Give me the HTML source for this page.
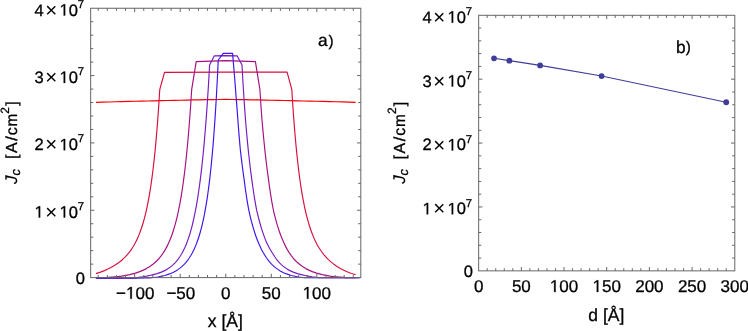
<!DOCTYPE html>
<html><head><meta charset="utf-8"><title>Jc plots</title>
<style>html,body{margin:0;padding:0;background:#fff;}body{width:748px;height:331px;overflow:hidden;font-family:"Liberation Sans",sans-serif;}svg{display:block;will-change:transform}svg text{font-family:"Liberation Sans",sans-serif;stroke:#000;stroke-width:0.3px;}</style>
</head><body>
<svg width="748" height="331" viewBox="0 0 748 331" style="font-family:&quot;Liberation Sans&quot;,sans-serif" fill="#000" text-rendering="geometricPrecision"><path d="M95.90 102.30L102.39 102.13L108.89 101.96L115.38 101.79L121.87 101.62L128.36 101.45L134.86 101.29L141.35 101.13L147.84 100.97L154.33 100.82L160.83 100.66L167.32 100.51L173.81 100.37L180.30 100.22L186.80 100.08L193.29 99.95L199.78 99.82L206.27 99.70L212.77 99.58L219.26 99.48L225.75 99.40L232.24 99.48L238.74 99.58L245.23 99.70L251.72 99.82L258.21 99.95L264.71 100.08L271.20 100.22L277.69 100.36L284.18 100.51L290.68 100.66L297.17 100.81L303.66 100.97L310.15 101.13L316.65 101.29L323.14 101.45L329.63 101.62L336.12 101.78L342.62 101.95L349.11 102.12L355.60 102.30" fill="none" stroke="#ff0000" stroke-width="1.17" stroke-linejoin="round" stroke-linecap="butt"/>
<path d="M95.90 273.64L100.52 272.12L104.44 270.60L107.84 269.08L110.86 267.56L113.55 266.04L115.98 264.52L118.18 263.00L120.18 261.48L122.00 259.96L123.68 258.44L125.22 256.92L126.65 255.40L127.97 253.88L129.19 252.36L130.34 250.84L131.41 249.32L132.41 247.80L133.35 246.28L134.24 244.76L135.08 243.24L135.87 241.72L136.62 240.20L137.34 238.68L138.02 237.16L138.66 235.64L139.28 234.12L139.87 232.60L140.44 231.08L140.98 229.56L141.50 228.04L142.00 226.52L142.48 225.00L142.94 223.48L143.39 221.96L143.82 220.44L144.24 218.92L144.64 217.40L145.03 215.88L145.40 214.36L145.77 212.84L146.12 211.32L146.47 209.80L146.80 208.28L147.12 206.76L147.44 205.24L147.75 203.72L148.04 202.20L148.33 200.67L148.62 199.15L148.89 197.63L149.16 196.11L149.43 194.59L149.68 193.07L149.93 191.55L150.18 190.03L150.42 188.51L150.65 186.99L150.88 185.47L151.11 183.95L151.33 182.43L151.54 180.91L151.75 179.39L151.96 177.87L152.16 176.35L152.36 174.83L152.56 173.31L152.75 171.79L152.94 170.27L153.12 168.75L153.30 167.23L153.48 165.71L153.65 164.19L153.83 162.67L153.99 161.15L154.16 159.63L154.32 158.11L154.49 156.59L154.64 155.07L154.80 153.55L154.95 152.03L155.10 150.51L155.25 148.99L155.40 147.47L155.54 145.95L155.68 144.43L155.82 142.91L155.96 141.39L156.10 139.87L156.23 138.35L156.36 136.83L156.49 135.31L156.62 133.79L156.75 132.27L156.88 130.75L157.00 129.23L157.12 127.71L157.24 126.18L157.36 124.66L157.48 123.14L157.59 121.62L157.71 120.10L157.82 118.58L157.93 117.06L158.04 115.54L158.15 114.02L158.26 112.50L158.37 110.98L158.47 109.46L158.58 107.94L158.68 106.42L158.78 104.90L158.88 103.38L158.98 101.86L159.08 100.34L159.18 98.82L159.27 97.30L159.37 95.78L159.46 94.26L159.56 92.74L159.65 91.22L159.74 89.70L164.50 72.40L225.80 72.20L287.10 72.20L291.83 89.70L291.92 91.22L292.01 92.73L292.11 94.25L292.20 95.77L292.30 97.29L292.39 98.80L292.49 100.32L292.59 101.84L292.69 103.35L292.79 104.87L292.89 106.39L293.00 107.90L293.10 109.42L293.21 110.94L293.31 112.46L293.42 113.97L293.53 115.49L293.64 117.01L293.75 118.52L293.87 120.04L293.98 121.56L294.10 123.07L294.22 124.59L294.34 126.11L294.46 127.63L294.58 129.14L294.70 130.66L294.83 132.18L294.96 133.69L295.09 135.21L295.22 136.73L295.35 138.24L295.49 139.76L295.62 141.28L295.76 142.80L295.90 144.31L296.04 145.83L296.19 147.35L296.34 148.86L296.49 150.38L296.64 151.90L296.79 153.42L296.95 154.93L297.11 156.45L297.27 157.97L297.43 159.48L297.60 161.00L297.77 162.52L297.94 164.03L298.12 165.55L298.29 167.07L298.48 168.59L298.66 170.10L298.85 171.62L299.04 173.14L299.24 174.65L299.44 176.17L299.64 177.69L299.85 179.20L300.06 180.72L300.27 182.24L300.49 183.76L300.72 185.27L300.95 186.79L301.18 188.31L301.42 189.82L301.67 191.34L301.92 192.86L302.18 194.37L302.44 195.89L302.71 197.41L302.99 198.93L303.27 200.44L303.56 201.96L303.86 203.48L304.16 204.99L304.48 206.51L304.80 208.03L305.13 209.55L305.48 211.06L305.83 212.58L306.19 214.10L306.57 215.61L306.95 217.13L307.35 218.65L307.76 220.16L308.19 221.68L308.63 223.20L309.09 224.72L309.56 226.23L310.06 227.75L310.57 229.27L311.10 230.78L311.66 232.30L312.23 233.82L312.84 235.33L313.47 236.85L314.13 238.37L314.82 239.89L315.55 241.40L316.31 242.92L317.12 244.44L317.97 245.95L318.86 247.47L319.82 248.99L320.82 250.50L321.90 252.02L323.04 253.54L324.26 255.06L325.57 256.57L326.98 258.09L328.49 259.61L330.13 261.12L331.90 262.64L333.83 264.16L335.95 265.68L338.27 267.19L340.86 268.71L343.76 270.23L347.07 271.74L350.94 273.26L355.70 274.78" fill="none" stroke="#d80f3e" stroke-width="1.17" stroke-linejoin="round" stroke-linecap="butt"/>
<path d="M95.90 278.10L98.43 277.99L100.97 277.86L103.50 277.72L106.03 277.56L108.57 277.38L111.10 277.20L112.87 277.07L114.63 276.92L116.40 276.77L118.17 276.60L119.93 276.41L121.70 276.19L129.71 274.68L135.38 273.16L139.78 271.65L143.36 270.13L146.37 268.61L148.95 267.10L151.21 265.58L153.21 264.06L155.00 262.55L156.62 261.03L158.09 259.52L159.43 258.00L160.67 256.48L161.82 254.97L162.88 253.45L163.88 251.93L164.81 250.42L165.69 248.90L166.51 247.39L167.29 245.87L168.03 244.35L168.73 242.84L169.40 241.32L170.04 239.80L170.64 238.29L171.22 236.77L171.78 235.26L172.31 233.74L172.83 232.22L173.32 230.71L173.79 229.19L174.25 227.68L174.69 226.16L175.12 224.64L175.53 223.13L175.93 221.61L176.32 220.09L176.69 218.58L177.06 217.06L177.41 215.55L177.75 214.03L178.09 212.51L178.41 211.00L178.73 209.48L179.04 207.96L179.34 206.45L179.63 204.93L179.91 203.42L180.19 201.90L180.46 200.38L180.73 198.87L180.99 197.35L181.24 195.83L181.49 194.32L181.73 192.80L181.97 191.29L182.21 189.77L182.43 188.25L182.66 186.74L182.88 185.22L183.09 183.71L183.30 182.19L183.51 180.67L183.71 179.16L183.91 177.64L184.11 176.12L184.30 174.61L184.49 173.09L184.68 171.58L184.86 170.06L185.04 168.54L185.22 167.03L185.39 165.51L185.56 163.99L185.73 162.48L185.89 160.96L186.06 159.45L186.22 157.93L186.38 156.41L186.53 154.90L186.69 153.38L186.84 151.86L186.99 150.35L187.14 148.83L187.28 147.32L187.42 145.80L187.57 144.28L187.71 142.77L187.84 141.25L187.98 139.73L188.11 138.22L188.25 136.70L188.38 135.19L188.50 133.67L188.63 132.15L188.76 130.64L188.88 129.12L189.01 127.61L189.13 126.09L189.25 124.57L189.36 123.06L189.48 121.54L189.60 120.02L189.71 118.51L189.83 116.99L189.94 115.48L190.05 113.96L190.16 112.44L190.27 110.93L190.37 109.41L190.48 107.89L190.58 106.38L190.69 104.86L190.79 103.35L190.89 101.83L190.99 100.31L191.09 98.80L191.19 97.28L191.29 95.76L191.38 94.25L191.48 92.73L191.58 91.22L191.67 89.70L196.20 61.70L225.80 60.60L255.40 61.60L259.93 89.70L260.02 91.22L260.12 92.73L260.22 94.25L260.31 95.76L260.41 97.28L260.51 98.80L260.61 100.31L260.71 101.83L260.81 103.35L260.91 104.86L261.02 106.38L261.12 107.89L261.23 109.41L261.33 110.93L261.44 112.44L261.55 113.96L261.66 115.48L261.77 116.99L261.89 118.51L262.00 120.02L262.13 121.54L262.27 123.06L262.40 124.57L262.53 126.09L262.67 127.61L262.81 129.12L262.95 130.64L263.09 132.15L263.23 133.67L263.38 135.19L263.52 136.70L263.67 138.22L263.82 139.73L263.97 141.25L264.12 142.77L264.28 144.28L264.43 145.80L264.59 147.32L264.75 148.83L264.91 150.35L265.08 151.86L265.25 153.38L265.42 154.90L265.59 156.41L265.76 157.93L265.94 159.45L266.11 160.96L266.30 162.48L266.48 163.99L266.67 165.51L266.85 167.03L267.05 168.54L267.24 170.06L267.44 171.58L267.64 173.09L267.85 174.61L268.05 176.12L268.26 177.64L268.48 179.16L268.69 180.67L268.88 182.19L269.08 183.71L269.29 185.22L269.50 186.74L269.71 188.25L269.93 189.77L270.15 191.29L270.38 192.80L270.61 194.32L270.85 195.83L271.10 197.35L271.34 198.87L271.60 200.38L271.86 201.90L272.13 203.42L272.41 204.93L272.69 206.45L272.98 207.96L273.28 209.48L273.61 211.00L273.96 212.51L274.33 214.03L274.70 215.55L275.08 217.06L275.48 218.58L275.88 220.09L276.30 221.61L276.73 223.13L277.17 224.64L277.63 226.16L278.10 227.68L278.59 229.19L279.09 230.71L279.62 232.22L280.16 233.74L280.72 235.26L281.31 236.77L281.92 238.29L282.56 239.80L283.20 241.32L283.87 242.84L284.57 244.35L285.31 245.87L286.09 247.39L286.91 248.90L287.79 250.42L288.72 251.93L289.72 253.45L290.78 254.97L291.90 256.48L293.11 258.00L294.42 259.52L295.86 261.03L297.45 262.55L299.21 264.06L301.16 265.58L303.34 267.10L305.85 268.61L308.79 270.13L312.29 271.65L316.61 273.16L322.20 274.68L330.08 276.19L331.83 276.41L333.57 276.60L335.32 276.77L337.07 276.92L338.83 277.07L340.58 277.20L343.10 277.38L345.61 277.56L348.13 277.72L350.65 277.75L353.17 277.75L355.70 277.75" fill="none" stroke="#a80f80" stroke-width="1.17" stroke-linejoin="round" stroke-linecap="butt"/>
<path d="M95.90 278.10L101.58 278.10L107.27 278.09L112.95 278.08L118.63 278.06L124.32 278.03L130.00 278.00L131.78 277.95L133.57 277.85L135.35 277.69L137.13 277.51L138.92 277.31L140.70 277.10L142.47 276.87L144.23 276.59L146.00 276.27L147.77 275.92L149.53 275.55L151.30 275.17L157.14 273.66L161.36 272.15L164.64 270.64L167.33 269.12L169.59 267.61L171.55 266.10L173.26 264.59L174.79 263.08L176.17 261.56L177.42 260.05L178.57 258.54L179.62 257.03L180.60 255.51L181.51 254.00L182.37 252.49L183.17 250.98L183.92 249.47L184.64 247.95L185.31 246.44L185.96 244.93L186.57 243.42L187.15 241.91L187.71 240.39L188.25 238.88L188.76 237.37L189.25 235.86L189.73 234.35L190.18 232.83L190.62 231.32L191.05 229.81L191.46 228.30L191.86 226.79L192.24 225.27L192.62 223.76L192.98 222.25L193.33 220.74L193.67 219.23L194.01 217.71L194.33 216.20L194.65 214.69L194.95 213.18L195.25 211.67L195.54 210.15L195.83 208.64L196.11 207.13L196.38 205.62L196.65 204.11L196.91 202.59L197.16 201.08L197.41 199.57L197.65 198.06L197.89 196.55L198.13 195.03L198.36 193.52L198.58 192.01L198.80 190.50L199.02 188.99L199.23 187.47L199.44 185.96L199.65 184.45L199.85 182.94L200.05 181.43L200.24 179.91L200.43 178.40L200.62 176.89L200.81 175.38L200.99 173.87L201.17 172.35L201.34 170.84L201.52 169.33L201.69 167.82L201.86 166.31L202.03 164.79L202.19 163.28L202.35 161.77L202.51 160.26L202.67 158.75L202.82 157.23L202.97 155.72L203.13 154.21L203.27 152.70L203.42 151.19L203.57 149.67L203.71 148.16L203.85 146.65L203.99 145.14L204.13 143.63L204.26 142.11L204.40 140.60L204.53 139.09L204.66 137.58L204.79 136.07L204.92 134.55L205.05 133.04L205.17 131.53L205.30 130.02L205.42 128.50L205.54 126.99L205.66 125.48L205.78 123.97L205.89 122.46L206.01 120.94L206.13 119.43L206.24 117.92L206.35 116.41L206.46 114.90L206.57 113.38L206.68 111.87L206.79 110.36L206.90 108.85L207.00 107.34L207.11 105.82L207.21 104.31L207.31 102.80L207.42 101.29L207.52 99.78L207.62 98.26L207.72 96.75L207.81 95.24L207.91 93.73L208.01 92.22L208.10 90.70L208.20 89.19L208.29 87.68L208.39 86.17L208.48 84.66L208.57 83.14L208.66 81.63L208.75 80.12L208.84 78.61L208.93 77.10L209.01 75.58L209.10 74.07L209.19 72.56L209.27 71.05L209.36 69.54L209.44 68.02L209.53 66.51L209.61 65.00L214.40 55.80L225.80 55.70L237.20 55.90L241.99 65.00L242.07 66.51L242.16 68.02L242.24 69.54L242.33 71.05L242.41 72.56L242.50 74.07L242.59 75.58L242.67 77.10L242.76 78.61L242.85 80.12L242.94 81.63L243.03 83.14L243.12 84.66L243.21 86.17L243.31 87.68L243.40 89.19L243.50 90.70L243.59 92.22L243.69 93.73L243.79 95.24L243.88 96.75L243.98 98.26L244.08 99.78L244.18 101.29L244.29 102.80L244.39 104.31L244.49 105.82L244.60 107.34L244.70 108.85L244.81 110.36L244.92 111.87L245.03 113.38L245.14 114.90L245.25 116.41L245.36 117.92L245.47 119.43L245.60 120.94L245.72 122.46L245.85 123.97L245.98 125.48L246.11 126.99L246.24 128.50L246.37 130.02L246.51 131.53L246.64 133.04L246.78 134.55L246.92 136.07L247.06 137.58L247.20 139.09L247.34 140.60L247.48 142.11L247.63 143.63L247.78 145.14L247.93 146.65L248.08 148.16L248.23 149.67L248.39 151.19L248.55 152.70L248.72 154.21L248.88 155.72L249.05 157.23L249.22 158.75L249.39 160.26L249.57 161.77L249.74 163.28L249.92 164.79L250.10 166.31L250.29 167.82L250.47 169.33L250.66 170.84L250.86 172.35L251.05 173.87L251.25 175.38L251.45 176.89L251.65 178.40L251.86 179.91L252.06 181.43L252.26 182.94L252.47 184.45L252.68 185.96L252.89 187.47L253.11 188.99L253.33 190.50L253.56 192.01L253.79 193.52L254.02 195.03L254.26 196.55L254.51 198.06L254.76 199.57L255.01 201.08L255.27 202.59L255.53 204.11L255.80 205.62L256.08 207.13L256.37 208.64L256.66 210.15L257.01 211.67L257.37 213.18L257.74 214.69L258.12 216.20L258.50 217.71L258.89 219.23L259.30 220.74L259.71 222.25L260.13 223.76L260.57 225.27L261.01 226.79L261.47 228.30L261.94 229.81L262.43 231.32L262.93 232.83L263.45 234.35L263.98 235.86L264.54 237.37L265.11 238.88L265.72 240.39L266.40 241.91L267.10 243.42L267.84 244.93L268.60 246.44L269.40 247.95L270.23 249.47L271.11 250.98L272.03 252.49L273.01 254.00L274.00 255.51L274.98 257.03L276.03 258.54L277.18 260.05L278.43 261.56L279.81 263.08L281.34 264.59L283.05 266.10L285.01 267.61L287.27 269.12L289.96 270.64L293.24 272.15L297.46 273.66L303.30 275.17L305.07 275.55L306.83 275.92L308.60 276.27L310.37 276.59L312.13 276.87L313.90 277.10L315.68 277.31L317.47 277.51L319.25 277.69L321.03 277.75L322.82 277.75L324.60 277.75L330.28 277.75L335.97 277.75L341.65 277.75L347.33 277.75L353.02 277.75L358.70 277.75" fill="none" stroke="#761cc0" stroke-width="1.17" stroke-linejoin="round" stroke-linecap="butt"/>
<path d="M95.90 278.10L104.08 278.10L112.27 278.09L120.45 278.08L128.63 278.06L136.82 278.04L145.00 278.00L147.12 277.95L149.23 277.84L151.35 277.67L153.47 277.46L155.58 277.22L157.70 276.97L164.87 275.45L169.52 273.93L173.02 272.42L175.84 270.90L178.21 269.38L180.25 267.86L182.05 266.35L183.65 264.83L185.09 263.31L186.39 261.80L187.59 260.28L188.70 258.76L189.72 257.24L190.67 255.73L191.56 254.21L192.39 252.69L193.17 251.17L193.91 249.66L194.61 248.14L195.27 246.62L195.90 245.11L196.50 243.59L197.07 242.07L197.62 240.55L198.14 239.04L198.64 237.52L199.12 236.00L199.58 234.48L200.03 232.97L200.46 231.45L200.87 229.93L201.27 228.42L201.66 226.90L202.03 225.38L202.39 223.86L202.74 222.35L203.08 220.83L203.41 219.31L203.73 217.79L204.04 216.28L204.34 214.76L204.63 213.24L204.92 211.73L205.20 210.21L205.47 208.69L205.74 207.17L205.99 205.66L206.25 204.14L206.49 202.62L206.73 201.10L206.97 199.59L207.20 198.07L207.43 196.55L207.65 195.04L207.86 193.52L208.07 192.00L208.28 190.48L208.48 188.97L208.68 187.45L208.88 185.93L209.07 184.41L209.26 182.90L209.44 181.38L209.62 179.86L209.80 178.35L209.97 176.83L210.14 175.31L210.31 173.79L210.48 172.28L210.64 170.76L210.80 169.24L210.96 167.73L211.12 166.21L211.27 164.69L211.42 163.17L211.57 161.66L211.71 160.14L211.86 158.62L212.00 157.10L212.14 155.59L212.27 154.07L212.41 152.55L212.54 151.04L212.67 149.52L212.80 148.00L212.93 146.48L213.06 144.97L213.18 143.45L213.31 141.93L213.43 140.41L213.55 138.90L213.67 137.38L213.78 135.86L213.90 134.35L214.01 132.83L214.12 131.31L214.24 129.79L214.35 128.28L214.45 126.76L214.56 125.24L214.67 123.72L214.77 122.21L214.88 120.69L214.98 119.17L215.08 117.66L215.18 116.14L215.28 114.62L215.38 113.10L215.47 111.59L215.57 110.07L215.66 108.55L215.76 107.03L215.85 105.52L215.94 104.00L216.03 102.48L216.12 100.97L216.21 99.45L216.30 97.93L216.39 96.41L216.48 94.90L216.56 93.38L216.65 91.86L216.73 90.35L216.81 88.83L216.90 87.31L216.98 85.79L217.06 84.28L217.14 82.76L217.22 81.24L217.30 79.72L217.37 78.21L217.45 76.69L217.53 75.17L217.60 73.66L217.68 72.14L217.75 70.62L217.83 69.10L217.90 67.59L217.97 66.07L218.05 64.55L218.12 63.03L218.19 61.52L218.26 60.00L223.30 53.40L232.60 53.40L234.50 76.00L237.62 116.14L237.72 117.66L237.82 119.17L237.93 120.69L238.04 122.21L238.16 123.72L238.27 125.24L238.39 126.76L238.51 128.28L238.63 129.79L238.75 131.31L238.87 132.83L239.00 134.35L239.12 135.86L239.25 137.38L239.38 138.90L239.51 140.41L239.64 141.93L239.77 143.45L239.91 144.97L240.04 146.48L240.18 148.00L240.32 149.52L240.48 151.04L240.66 152.55L240.83 154.07L241.01 155.59L241.19 157.10L241.37 158.62L241.56 160.14L241.74 161.66L241.93 163.17L242.12 164.69L242.32 166.21L242.51 167.73L242.71 169.24L242.91 170.76L243.11 172.28L243.32 173.79L243.53 175.31L243.74 176.83L243.96 178.35L244.18 179.86L244.37 181.38L244.56 182.90L244.76 184.41L244.96 185.93L245.17 187.45L245.38 188.97L245.59 190.48L245.81 192.00L246.03 193.52L246.25 195.04L246.49 196.55L246.72 198.07L246.96 199.59L247.21 201.10L247.46 202.62L247.71 204.14L247.98 205.66L248.25 207.17L248.52 208.69L248.81 210.21L249.14 211.73L249.48 213.24L249.83 214.76L250.19 216.28L250.56 217.79L250.93 219.31L251.32 220.83L251.71 222.35L252.12 223.86L252.54 225.38L252.96 226.90L253.41 228.42L253.86 229.93L254.33 231.45L254.81 232.97L255.31 234.48L255.83 236.00L256.37 237.52L256.93 239.04L257.51 240.55L258.13 242.07L258.77 243.59L259.44 245.11L260.14 246.62L260.87 248.14L261.64 249.66L262.45 251.17L263.30 252.69L264.21 254.21L265.15 255.73L266.13 257.24L267.18 258.76L268.31 260.28L269.54 261.80L270.88 263.31L272.35 264.83L273.98 266.35L275.81 267.86L277.88 269.38L280.26 270.90L283.08 272.42L286.58 273.93L291.23 275.45L298.40 276.97L300.52 277.22L302.63 277.46L304.75 277.67L306.87 277.75L308.98 277.75L311.10 277.75L319.28 277.75L327.47 277.75L335.65 277.75L343.83 277.75L352.02 277.75L360.20 277.75" fill="none" stroke="#3f14ec" stroke-width="1.17" stroke-linejoin="round" stroke-linecap="butt"/>
<path d="M494.02 58.29L509.38 60.65L540.12 65.38L601.58 76.05L726.22 102.24" fill="none" stroke="#3f3d99" stroke-width="1.1"/>
<circle cx="494.02" cy="58.29" r="2.9" fill="#3f3d99"/>
<circle cx="509.38" cy="60.65" r="2.9" fill="#3f3d99"/>
<circle cx="540.12" cy="65.38" r="2.9" fill="#3f3d99"/>
<circle cx="601.58" cy="76.05" r="2.9" fill="#3f3d99"/>
<circle cx="726.22" cy="102.24" r="2.9" fill="#3f3d99"/>
<rect x="90.65" y="8.25" width="270.15" height="269.35" fill="none" stroke="#666" stroke-width="1"/>
<path d="M98.21 277.6v-2.6M98.21 8.25v2.6M107.32 277.6v-2.6M107.32 8.25v2.6M116.43 277.6v-2.6M116.43 8.25v2.6M125.54 277.6v-2.6M125.54 8.25v2.6M134.65 277.6v-3.8M134.65 8.25v3.8M143.76 277.6v-2.6M143.76 8.25v2.6M152.87 277.6v-2.6M152.87 8.25v2.6M161.98 277.6v-2.6M161.98 8.25v2.6M171.09 277.6v-2.6M171.09 8.25v2.6M180.20 277.6v-3.8M180.20 8.25v3.8M189.31 277.6v-2.6M189.31 8.25v2.6M198.42 277.6v-2.6M198.42 8.25v2.6M207.53 277.6v-2.6M207.53 8.25v2.6M216.64 277.6v-2.6M216.64 8.25v2.6M225.75 277.6v-3.8M225.75 8.25v3.8M234.86 277.6v-2.6M234.86 8.25v2.6M243.97 277.6v-2.6M243.97 8.25v2.6M253.08 277.6v-2.6M253.08 8.25v2.6M262.19 277.6v-2.6M262.19 8.25v2.6M271.30 277.6v-3.8M271.30 8.25v3.8M280.41 277.6v-2.6M280.41 8.25v2.6M289.52 277.6v-2.6M289.52 8.25v2.6M298.63 277.6v-2.6M298.63 8.25v2.6M307.74 277.6v-2.6M307.74 8.25v2.6M316.85 277.6v-3.8M316.85 8.25v3.8M325.96 277.6v-2.6M325.96 8.25v2.6M335.07 277.6v-2.6M335.07 8.25v2.6M344.18 277.6v-2.6M344.18 8.25v2.6M353.29 277.6v-2.6M353.29 8.25v2.6M90.65 264.13h2.6M360.8 264.13h-2.6M90.65 250.66h2.6M360.8 250.66h-2.6M90.65 237.20h2.6M360.8 237.20h-2.6M90.65 223.73h2.6M360.8 223.73h-2.6M90.65 210.26h3.8M360.8 210.26h-3.8M90.65 196.79h2.6M360.8 196.79h-2.6M90.65 183.32h2.6M360.8 183.32h-2.6M90.65 169.86h2.6M360.8 169.86h-2.6M90.65 156.39h2.6M360.8 156.39h-2.6M90.65 142.92h3.8M360.8 142.92h-3.8M90.65 129.45h2.6M360.8 129.45h-2.6M90.65 115.98h2.6M360.8 115.98h-2.6M90.65 102.52h2.6M360.8 102.52h-2.6M90.65 89.05h2.6M360.8 89.05h-2.6M90.65 75.58h3.8M360.8 75.58h-3.8M90.65 62.11h2.6M360.8 62.11h-2.6M90.65 48.64h2.6M360.8 48.64h-2.6M90.65 35.18h2.6M360.8 35.18h-2.6M90.65 21.71h2.6M360.8 21.71h-2.6" fill="none" stroke="#666" stroke-width="1"/>
<rect x="478.65" y="15.3" width="256.15" height="255.55" fill="none" stroke="#666" stroke-width="1"/>
<path d="M487.19 270.85v-2.6M487.19 15.3v2.6M495.72 270.85v-2.6M495.72 15.3v2.6M504.26 270.85v-2.6M504.26 15.3v2.6M512.80 270.85v-2.6M512.80 15.3v2.6M521.34 270.85v-3.8M521.34 15.3v3.8M529.87 270.85v-2.6M529.87 15.3v2.6M538.41 270.85v-2.6M538.41 15.3v2.6M546.95 270.85v-2.6M546.95 15.3v2.6M555.48 270.85v-2.6M555.48 15.3v2.6M564.02 270.85v-3.8M564.02 15.3v3.8M572.56 270.85v-2.6M572.56 15.3v2.6M581.09 270.85v-2.6M581.09 15.3v2.6M589.63 270.85v-2.6M589.63 15.3v2.6M598.17 270.85v-2.6M598.17 15.3v2.6M606.70 270.85v-3.8M606.70 15.3v3.8M615.24 270.85v-2.6M615.24 15.3v2.6M623.78 270.85v-2.6M623.78 15.3v2.6M632.32 270.85v-2.6M632.32 15.3v2.6M640.85 270.85v-2.6M640.85 15.3v2.6M649.39 270.85v-3.8M649.39 15.3v3.8M657.93 270.85v-2.6M657.93 15.3v2.6M666.46 270.85v-2.6M666.46 15.3v2.6M675.00 270.85v-2.6M675.00 15.3v2.6M683.54 270.85v-2.6M683.54 15.3v2.6M692.08 270.85v-3.8M692.08 15.3v3.8M700.61 270.85v-2.6M700.61 15.3v2.6M709.15 270.85v-2.6M709.15 15.3v2.6M717.69 270.85v-2.6M717.69 15.3v2.6M726.22 270.85v-2.6M726.22 15.3v2.6M478.65 258.07h2.6M734.8 258.07h-2.6M478.65 245.29h2.6M734.8 245.29h-2.6M478.65 232.52h2.6M734.8 232.52h-2.6M478.65 219.74h2.6M734.8 219.74h-2.6M478.65 206.96h3.8M734.8 206.96h-3.8M478.65 194.18h2.6M734.8 194.18h-2.6M478.65 181.40h2.6M734.8 181.40h-2.6M478.65 168.63h2.6M734.8 168.63h-2.6M478.65 155.85h2.6M734.8 155.85h-2.6M478.65 143.07h3.8M734.8 143.07h-3.8M478.65 130.29h2.6M734.8 130.29h-2.6M478.65 117.51h2.6M734.8 117.51h-2.6M478.65 104.74h2.6M734.8 104.74h-2.6M478.65 91.96h2.6M734.8 91.96h-2.6M478.65 79.18h3.8M734.8 79.18h-3.8M478.65 66.40h2.6M734.8 66.40h-2.6M478.65 53.62h2.6M734.8 53.62h-2.6M478.65 40.85h2.6M734.8 40.85h-2.6M478.65 28.07h2.6M734.8 28.07h-2.6" fill="none" stroke="#666" stroke-width="1"/>
<text x="84.85000000000001" y="283.5" font-size="16.5" text-anchor="end" >0</text>
<polygon points="38.70,217.61 38.70,207.64 36.14,209.47 36.14,208.10 38.82,206.26 40.16,206.26 40.16,217.61" fill="#000" stroke="#000" stroke-width="0.3" stroke-linejoin="miter"/>
<text x="51.35000000000001" y="218.71" font-size="20.5" text-anchor="middle" style="stroke-width:0">×</text>
<polygon points="63.70,217.61 63.70,207.64 61.14,209.47 61.14,208.10 63.82,206.26 65.16,206.26 65.16,217.61" fill="#000" stroke="#000" stroke-width="0.3" stroke-linejoin="miter"/>
<text x="68.73" y="217.61" font-size="16.5" text-anchor="start" >0</text>
<text x="77.65" y="209.81" font-size="11.3" text-anchor="start" >7</text>
<text x="34.55" y="150.27" font-size="16.5" text-anchor="start" >2</text>
<text x="51.35000000000001" y="151.37" font-size="20.5" text-anchor="middle" style="stroke-width:0">×</text>
<polygon points="63.70,150.27 63.70,140.30 61.14,142.13 61.14,140.76 63.82,138.92 65.16,138.92 65.16,150.27" fill="#000" stroke="#000" stroke-width="0.3" stroke-linejoin="miter"/>
<text x="68.73" y="150.27" font-size="16.5" text-anchor="start" >0</text>
<text x="77.65" y="142.47" font-size="11.3" text-anchor="start" >7</text>
<text x="34.55" y="82.93" font-size="16.5" text-anchor="start" >3</text>
<text x="51.35000000000001" y="84.03" font-size="20.5" text-anchor="middle" style="stroke-width:0">×</text>
<polygon points="63.70,82.93 63.70,72.96 61.14,74.79 61.14,73.42 63.82,71.58 65.16,71.58 65.16,82.93" fill="#000" stroke="#000" stroke-width="0.3" stroke-linejoin="miter"/>
<text x="68.73" y="82.93" font-size="16.5" text-anchor="start" >0</text>
<text x="77.65" y="75.13000000000001" font-size="11.3" text-anchor="start" >7</text>
<text x="34.55" y="15.590000000000009" font-size="16.5" text-anchor="start" >4</text>
<text x="51.35000000000001" y="16.69000000000001" font-size="20.5" text-anchor="middle" style="stroke-width:0">×</text>
<polygon points="63.70,15.59 63.70,5.62 61.14,7.45 61.14,6.08 63.82,4.24 65.16,4.24 65.16,15.59" fill="#000" stroke="#000" stroke-width="0.3" stroke-linejoin="miter"/>
<text x="68.73" y="15.590000000000009" font-size="16.5" text-anchor="start" >0</text>
<text x="77.65" y="7.790000000000009" font-size="11.3" text-anchor="start" >7</text>
<text x="472.84999999999997" y="276.75" font-size="16.5" text-anchor="end" >0</text>
<polygon points="426.70,214.31 426.70,204.34 424.14,206.17 424.14,204.80 426.82,202.96 428.16,202.96 428.16,214.31" fill="#000" stroke="#000" stroke-width="0.3" stroke-linejoin="miter"/>
<text x="439.34999999999997" y="215.41000000000003" font-size="20.5" text-anchor="middle" style="stroke-width:0">×</text>
<polygon points="451.70,214.31 451.70,204.34 449.14,206.17 449.14,204.80 451.82,202.96 453.16,202.96 453.16,214.31" fill="#000" stroke="#000" stroke-width="0.3" stroke-linejoin="miter"/>
<text x="456.73" y="214.31000000000003" font-size="16.5" text-anchor="start" >0</text>
<text x="465.65" y="206.51000000000002" font-size="11.3" text-anchor="start" >7</text>
<text x="422.55" y="150.42000000000002" font-size="16.5" text-anchor="start" >2</text>
<text x="439.34999999999997" y="151.52" font-size="20.5" text-anchor="middle" style="stroke-width:0">×</text>
<polygon points="451.70,150.42 451.70,140.45 449.14,142.28 449.14,140.91 451.82,139.07 453.16,139.07 453.16,150.42" fill="#000" stroke="#000" stroke-width="0.3" stroke-linejoin="miter"/>
<text x="456.73" y="150.42000000000002" font-size="16.5" text-anchor="start" >0</text>
<text x="465.65" y="142.62" font-size="11.3" text-anchor="start" >7</text>
<text x="422.55" y="86.53" font-size="16.5" text-anchor="start" >3</text>
<text x="439.34999999999997" y="87.63" font-size="20.5" text-anchor="middle" style="stroke-width:0">×</text>
<polygon points="451.70,86.53 451.70,76.56 449.14,78.39 449.14,77.02 451.82,75.18 453.16,75.18 453.16,86.53" fill="#000" stroke="#000" stroke-width="0.3" stroke-linejoin="miter"/>
<text x="456.73" y="86.53" font-size="16.5" text-anchor="start" >0</text>
<text x="465.65" y="78.73" font-size="11.3" text-anchor="start" >7</text>
<text x="422.55" y="22.640000000000022" font-size="16.5" text-anchor="start" >4</text>
<text x="439.34999999999997" y="23.740000000000023" font-size="20.5" text-anchor="middle" style="stroke-width:0">×</text>
<polygon points="451.70,22.64 451.70,12.67 449.14,14.50 449.14,13.13 451.82,11.29 453.16,11.29 453.16,22.64" fill="#000" stroke="#000" stroke-width="0.3" stroke-linejoin="miter"/>
<text x="456.73" y="22.640000000000022" font-size="16.5" text-anchor="start" >0</text>
<text x="465.65" y="14.840000000000021" font-size="11.3" text-anchor="start" >7</text>
<text x="116.12" y="298.8" font-size="17" text-anchor="start" >−</text>
<polygon points="130.29,298.80 130.29,288.53 127.66,290.42 127.66,289.01 130.42,287.10 131.80,287.10 131.80,298.80" fill="#000" stroke="#000" stroke-width="0.3" stroke-linejoin="miter"/>
<text x="135.47" y="298.8" font-size="17" text-anchor="start" >00</text>
<text x="166.4" y="298.8" font-size="17" text-anchor="start" >−</text>
<text x="176.3" y="298.8" font-size="17" text-anchor="start" >50</text>
<text x="221.02" y="298.8" font-size="17" text-anchor="start" >0</text>
<text x="261.85" y="298.8" font-size="17" text-anchor="start" >50</text>
<polygon points="306.94,298.80 306.94,288.53 304.30,290.42 304.30,289.01 307.07,287.10 308.45,287.10 308.45,298.80" fill="#000" stroke="#000" stroke-width="0.3" stroke-linejoin="miter"/>
<text x="312.12" y="298.8" font-size="17" text-anchor="start" >00</text>
<text x="473.92" y="292.0" font-size="17" text-anchor="start" >0</text>
<text x="511.89" y="292.0" font-size="17" text-anchor="start" >50</text>
<polygon points="554.11,292.00 554.11,281.73 551.47,283.62 551.47,282.21 554.24,280.30 555.62,280.30 555.62,292.00" fill="#000" stroke="#000" stroke-width="0.3" stroke-linejoin="miter"/>
<text x="559.29" y="292.0" font-size="17" text-anchor="start" >00</text>
<polygon points="596.79,292.00 596.79,281.73 594.15,283.62 594.15,282.21 596.92,280.30 598.30,280.30 598.30,292.00" fill="#000" stroke="#000" stroke-width="0.3" stroke-linejoin="miter"/>
<text x="601.97" y="292.0" font-size="17" text-anchor="start" >50</text>
<text x="635.21" y="292.0" font-size="17" text-anchor="start" >200</text>
<text x="677.9" y="292.0" font-size="17" text-anchor="start" >250</text>
<text x="720.58" y="292.0" font-size="17" text-anchor="start" >300</text>
<text x="225.3" y="327.4" font-size="17.5" text-anchor="middle" >x [Å]</text>
<text x="606.3" y="321.3" font-size="17.5" text-anchor="middle" >d [Å]</text>
<text x="318.1" y="46.3" font-size="17.3" text-anchor="start" >a</text>
<text x="328.5" y="45.7" font-size="15.3" text-anchor="start" >)</text>
<text x="675.9" y="52.9" font-size="17.3" text-anchor="start" >b</text>
<text x="685.8" y="52.4" font-size="15.3" text-anchor="start" >)</text>
<g transform="translate(17.1 183.65) rotate(-90)"><text x="-0.3" y="0" font-size="17" font-style="italic" style="stroke-width:0.15px">J</text><text x="8.1" y="3.0" font-size="13" font-style="italic">c</text><text x="24.65" y="0" font-size="16">[</text><text x="30.65" y="0" font-size="16">A</text><text x="42.97" y="0" font-size="16">/</text><text x="48.37" y="0" font-size="16">c</text><text x="57.1" y="0" font-size="16" textLength="12.7" lengthAdjust="spacingAndGlyphs">m</text><text x="70.0" y="-8.4" font-size="12">2</text><text x="77.9" y="0" font-size="16">]</text></g>
<g transform="translate(404.8 184.1) rotate(-90)"><text x="0.3" y="0" font-size="17" font-style="italic" style="stroke-width:0.15px">J</text><text x="8.7" y="3.0" font-size="13" font-style="italic">c</text><text x="24.65" y="0" font-size="16">[</text><text x="30.65" y="0" font-size="16">A</text><text x="42.97" y="0" font-size="16">/</text><text x="48.37" y="0" font-size="16">c</text><text x="57.1" y="0" font-size="16" textLength="12.7" lengthAdjust="spacingAndGlyphs">m</text><text x="70.0" y="-8.4" font-size="12">2</text><text x="77.9" y="0" font-size="16">]</text></g></svg>
</body></html>
